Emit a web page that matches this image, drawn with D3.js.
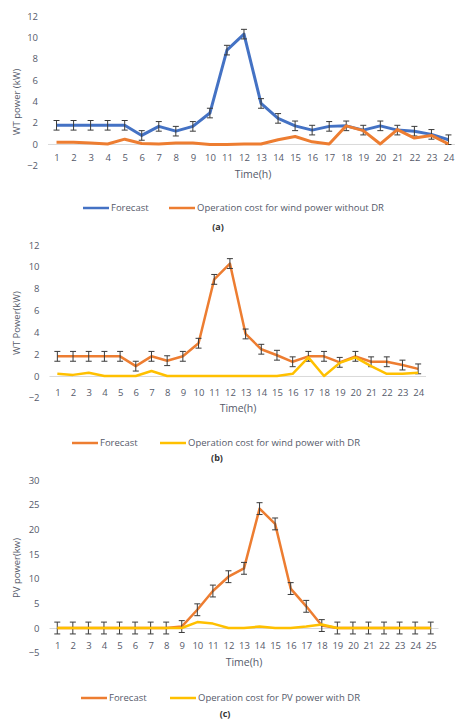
<!DOCTYPE html>
<html>
<head>
<meta charset="utf-8">
<script src="https://cdn.jsdelivr.net/npm/d3@7"></script>
<style>
  body { margin: 0; background: #fff; }
  svg { display: block; font-family: "Open Sans", sans-serif; }
</style>
</head>
<body>
<svg id="chart"></svg>
<script>
// hours on the x axis
var hours24 = d3.range(1, 25).map(String);
var hours25 = d3.range(1, 26).map(String);

// (a) wind turbine, without DR
var forecastA = [1.75, 1.75, 1.75, 1.75, 1.75, 0.8, 1.65, 1.2, 1.65, 2.9, 8.8, 10.3,
                 3.8, 2.4, 1.7, 1.3, 1.65, 1.7, 1.3, 1.7, 1.3, 1.2, 0.9, 0.4];
var costA = [0.15, 0.15, 0.1, 0.0, 0.45, 0.05, 0.0, 0.1, 0.1, -0.05, -0.05, 0.0,
             0.0, 0.4, 0.7, 0.2, 0.0, 1.7, 1.25, 0.0, 1.35, 0.55, 0.8, 0.0];

// (b) wind turbine, with DR
var forecastB = [1.8, 1.8, 1.8, 1.8, 1.8, 0.9, 1.8, 1.4, 1.8, 3.0, 8.85, 10.3,
                 3.85, 2.45, 1.9, 1.3, 1.8, 1.8, 1.25, 1.8, 1.3, 1.3, 1.0, 0.65];
var costB = [0.2, 0.1, 0.3, 0.0, 0.0, 0.0, 0.45, 0.0, 0.0, 0.0, 0.0, 0.0,
             0.0, 0.0, 0.0, 0.2, 1.7, 0.0, 1.2, 1.7, 0.9, 0.2, 0.2, 0.3];

// (c) PV, with DR
var forecastC = [0, 0, 0, 0, 0, 0, 0, 0, 0.3, 3.7, 7.5, 10.4, 12.1,
                 24.2, 21.1, 8.0, 4.4, 0.5, 0, 0, 0, 0, 0, 0, 0];
var costC = [0, 0, 0, 0, 0, 0, 0, 0, 0, 1.2, 0.9, 0.0, 0.0,
             0.3, 0.0, 0.0, 0.3, 0.7, 0, 0, 0, 0, 0, 0, 0];

// axis ticks
var yTicksWT = [-2, 0, 2, 4, 6, 8, 10, 12];
var yTicksPV = [-5, 0, 5, 10, 15, 20, 25, 30];

// fixed error bar sizes
var errWT = 0.45;
var errPV = 1.2;

var BLUE = "#4472c4", ORANGE = "#ed7d31", YELLOW = "#ffc000";
var TEXT = "#555a6a";

var svg = d3.select("#chart").attr("width", 455).attr("height", 720);

function drawPanel(p) {
    var x = d3.scalePoint()
        .domain(p.cats)
        .range([p.left, p.right])
        .padding(0.5);
    var y = d3.scaleLinear()
        .domain(d3.extent(p.yTicks))
        .range([p.bottom, p.top]);

    var g = svg.append("g");

    // y axis labels (no line)
    var ya = g.append("g")
        .attr("transform", "translate(" + (p.left - 10) + ",0)")
        .call(d3.axisLeft(y).tickValues(p.yTicks).tickSize(0).tickPadding(0));
    ya.select(".domain").remove();
    ya.selectAll("text").attr("fill", TEXT).attr("font-size", 9.5)
        .attr("font-family", "Open Sans, sans-serif");

    // zero line + category labels
    var xa = g.append("g")
        .attr("transform", "translate(0," + y(0) + ")")
        .call(d3.axisBottom(x).tickSize(0).tickPadding(p.labelPad));
    xa.select(".domain").attr("stroke", "#d9d9d9").attr("stroke-width", 1)
        .attr("d", "M" + p.left + ",0.5H" + p.right);
    xa.selectAll("text").attr("fill", TEXT).attr("font-size", 9.5)
        .attr("font-family", "Open Sans, sans-serif");

    var line = d3.line()
        .x(function(d, i) { return x(p.cats[i]); })
        .y(function(d) { return y(d); });

    // first series with error bars
    g.append("path")
        .datum(p.s1)
        .attr("fill", "none")
        .attr("stroke", p.c1)
        .attr("stroke-width", p.w1)
        .attr("stroke-linejoin", "round")
        .attr("d", line);

    var eb = g.append("g").attr("stroke", "#3a3a3a").attr("stroke-width", 1);
    p.s1.forEach(function(v, i) {
        var cx = x(p.cats[i]);
        var y1 = y(v + p.err), y2 = y(v - p.err);
        eb.append("line").attr("x1", cx).attr("x2", cx).attr("y1", y1).attr("y2", y2);
        eb.append("line").attr("x1", cx - 3).attr("x2", cx + 3).attr("y1", y1).attr("y2", y1);
        eb.append("line").attr("x1", cx - 3).attr("x2", cx + 3).attr("y1", y2).attr("y2", y2);
    });

    // second series on top
    g.append("path")
        .datum(p.s2)
        .attr("fill", "none")
        .attr("stroke", p.c2)
        .attr("stroke-width", p.w2)
        .attr("stroke-linejoin", "round")
        .attr("d", line);

    // axis titles
    g.append("text")
        .attr("x", p.xTitle[0]).attr("y", p.xTitle[1])
        .attr("text-anchor", "middle")
        .attr("dominant-baseline", "middle")
        .attr("fill", TEXT).attr("font-size", 10.5)
        .text("Time(h)");
    g.append("text")
        .attr("transform", "translate(" + p.yTitle[0] + "," + p.yTitle[1] + ") rotate(-90)")
        .attr("text-anchor", "middle")
        .attr("dominant-baseline", "middle")
        .attr("fill", TEXT).attr("font-size", 9.5)
        .text(p.yLabel);

    // legend
    var lg = g.append("g").attr("font-size", 9.5).attr("fill", TEXT);
    p.legend.forEach(function(item) {
        lg.append("line")
            .attr("x1", item.x).attr("x2", item.x + 26)
            .attr("y1", p.legendY).attr("y2", p.legendY)
            .attr("stroke", item.color).attr("stroke-width", 2.5);
        lg.append("text")
            .attr("x", item.x + 28).attr("y", p.legendY)
            .attr("dominant-baseline", "middle")
            .text(item.label);
    });

    g.append("text")
        .attr("x", p.caption[0]).attr("y", p.caption[1])
        .attr("text-anchor", "middle")
        .attr("dominant-baseline", "middle")
        .attr("font-size", 9).attr("font-weight", "bold").attr("fill", "#333")
        .text(p.captionText);
}

drawPanel({
    cats: hours24, s1: forecastA, s2: costA, c1: BLUE, c2: ORANGE, w1: 3, w2: 3,
    err: errWT, yTicks: yTicksWT,
    left: 48, right: 457, top: 16, bottom: 165.3, labelPad: 10,
    xTitle: [253, 175], yTitle: [17, 102], yLabel: "WT power (kW)",
    legendY: 208,
    legend: [{x: 83, color: BLUE, label: "Forecast"},
             {x: 169, color: ORANGE, label: "Operation cost for wind power without DR"}],
    caption: [218, 228], captionText: "(a)"
});

drawPanel({
    cats: hours24, s1: forecastB, s2: costB, c1: ORANGE, c2: YELLOW, w1: 2.5, w2: 2.5,
    err: errWT, yTicks: yTicksWT,
    left: 49.5, right: 426, top: 245, bottom: 397.8, labelPad: 13,
    xTitle: [238, 409], yTitle: [17, 323], yLabel: "WT Power(kW)",
    legendY: 443,
    legend: [{x: 72, color: ORANGE, label: "Forecast"},
             {x: 160, color: YELLOW, label: "Operation cost for wind power with DR"}],
    caption: [217, 459], captionText: "(b)"
});

drawPanel({
    cats: hours25, s1: forecastC, s2: costC, c1: ORANGE, c2: YELLOW, w1: 2.5, w2: 2.5,
    err: errPV, yTicks: yTicksPV,
    left: 49.5, right: 438.5, top: 480, bottom: 652.7, labelPad: 14,
    xTitle: [244, 663], yTitle: [17, 568], yLabel: "PV power(kw)",
    legendY: 698,
    legend: [{x: 81, color: ORANGE, label: "Forecast"},
             {x: 170, color: YELLOW, label: "Operation cost for PV power with DR"}],
    caption: [225, 715], captionText: "(c)"
});
</script>
</body>
</html>
